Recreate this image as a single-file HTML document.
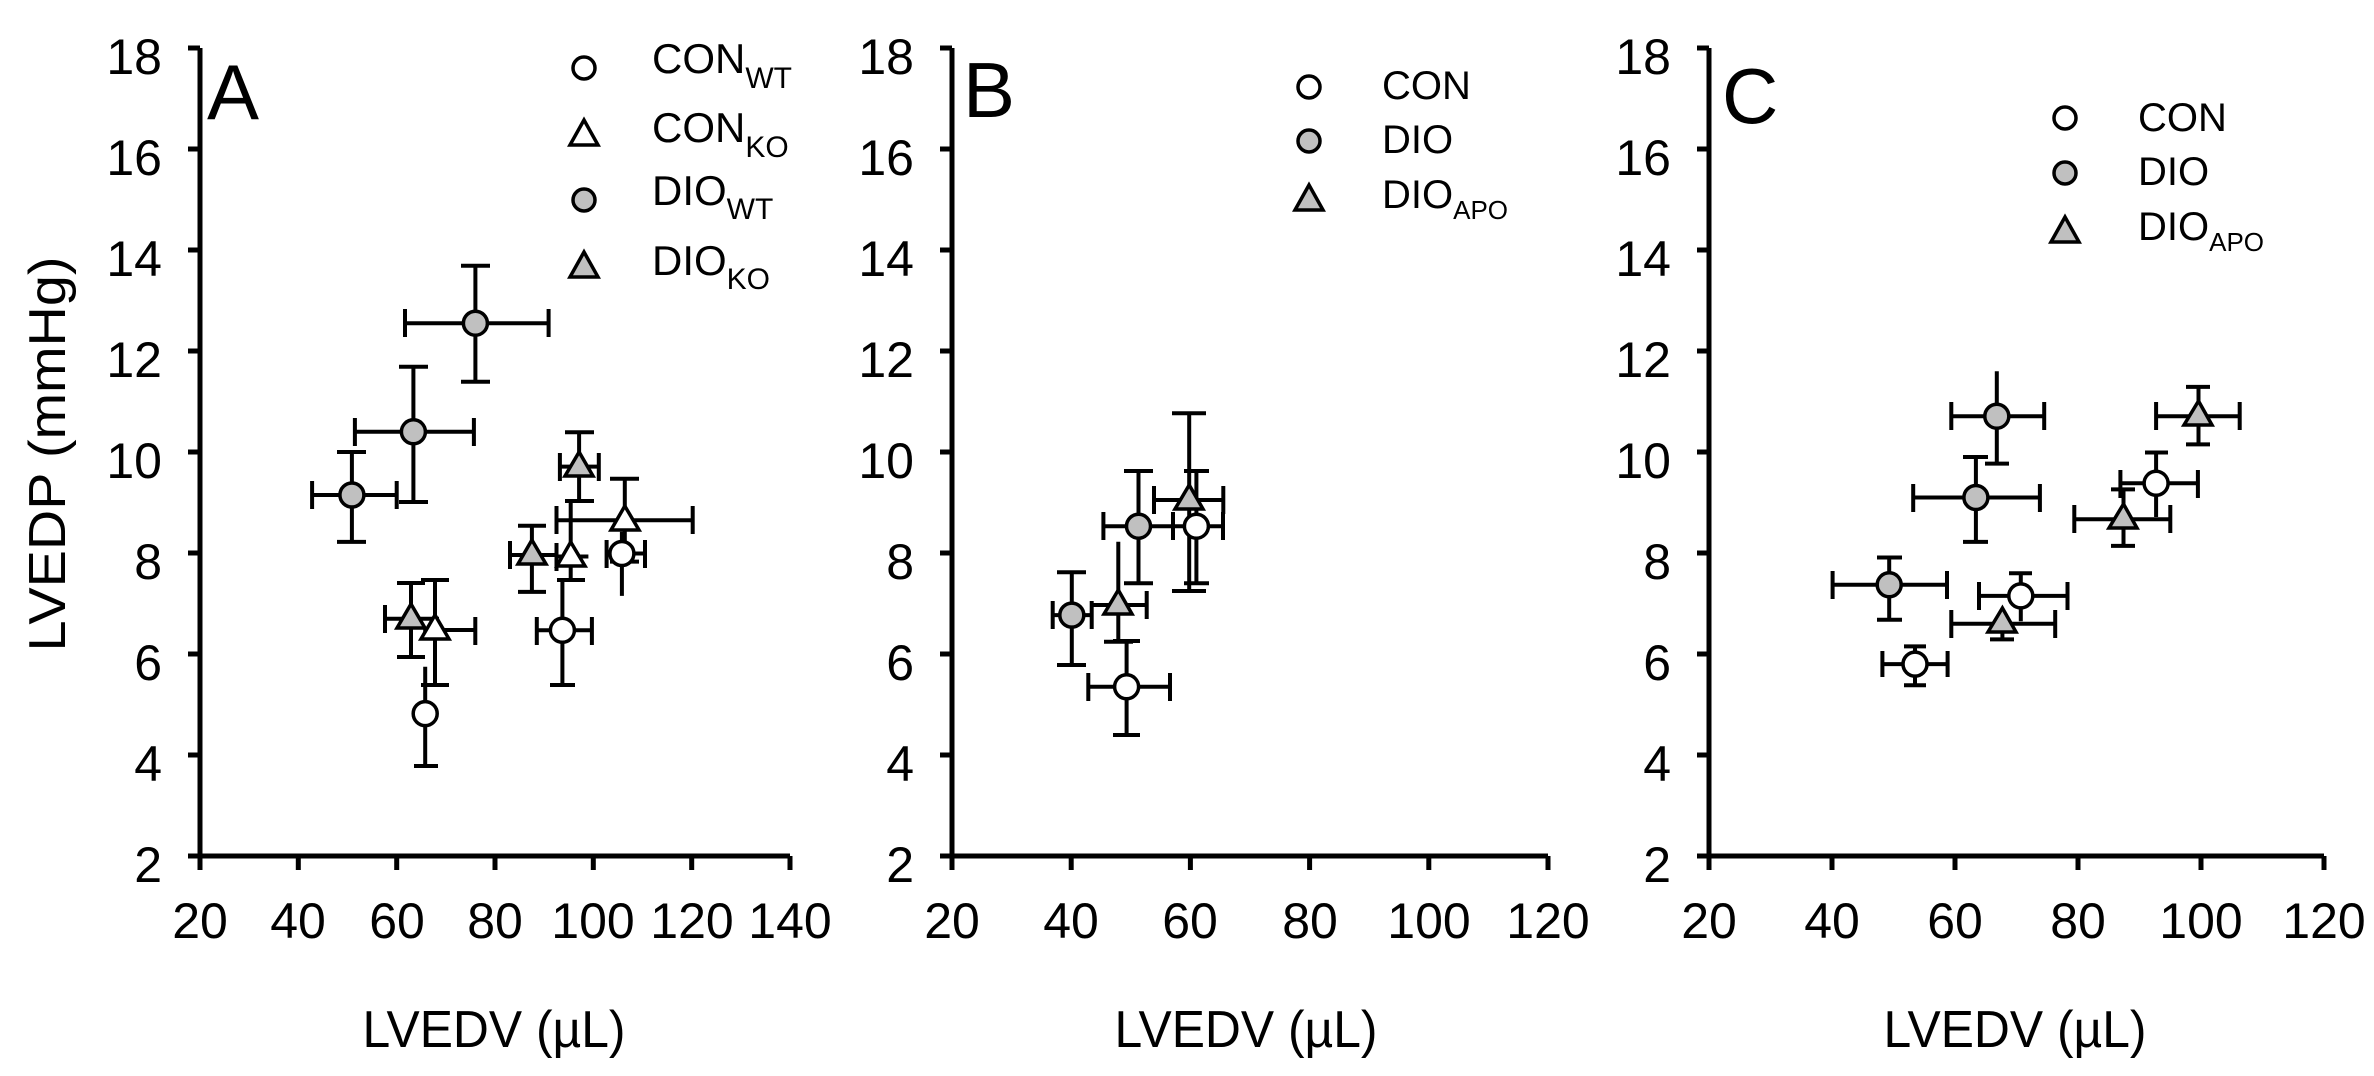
<!DOCTYPE html>
<html><head><meta charset="utf-8"><style>html,body{margin:0;padding:0;background:#fff}svg{display:block}</style></head><body>
<svg width="2374" height="1076" viewBox="0 0 2374 1076" xmlns="http://www.w3.org/2000/svg" font-family="Liberation Sans, Arial, sans-serif">
<rect width="2374" height="1076" fill="#fff"/>
<g stroke="#000" stroke-width="5" fill="none">
<!-- axes -->
<path d="M200 48V856M188 856H790"/>
<path d="M188 48h12M188 149h12M188 250h12M188 351h12M188 452h12M188 553h12M188 654h12M188 755h12"/>
<path d="M200 856v14M298.3 856v14M396.7 856v14M495 856v14M593.3 856v14M691.7 856v14M790 856v14"/>
<path d="M952 48V856M940 856H1548"/>
<path d="M940 48h12M940 149h12M940 250h12M940 351h12M940 452h12M940 553h12M940 654h12M940 755h12"/>
<path d="M952 856v14M1071.2 856v14M1190.4 856v14M1309.6 856v14M1428.8 856v14M1548 856v14"/>
<path d="M1709 48V856M1697 856H2324"/>
<path d="M1697 48h12M1697 149h12M1697 250h12M1697 351h12M1697 452h12M1697 553h12M1697 654h12M1697 755h12"/>
<path d="M1709 856v14M1832 856v14M1955 856v14M2078 856v14M2201 856v14M2324 856v14"/>
</g>
<g font-size="50" text-anchor="end" fill="#000">
<text x="162" y="74">18</text><text x="162" y="175">16</text><text x="162" y="276">14</text><text x="162" y="377">12</text><text x="162" y="478">10</text><text x="162" y="579">8</text><text x="162" y="680">6</text><text x="162" y="781">4</text><text x="162" y="882">2</text>
<text x="914" y="74">18</text><text x="914" y="175">16</text><text x="914" y="276">14</text><text x="914" y="377">12</text><text x="914" y="478">10</text><text x="914" y="579">8</text><text x="914" y="680">6</text><text x="914" y="781">4</text><text x="914" y="882">2</text>
<text x="1671" y="74">18</text><text x="1671" y="175">16</text><text x="1671" y="276">14</text><text x="1671" y="377">12</text><text x="1671" y="478">10</text><text x="1671" y="579">8</text><text x="1671" y="680">6</text><text x="1671" y="781">4</text><text x="1671" y="882">2</text>
</g>
<g font-size="50" text-anchor="middle" fill="#000">
<text x="200" y="938">20</text><text x="298" y="938">40</text><text x="397" y="938">60</text><text x="495" y="938">80</text><text x="593" y="938">100</text><text x="692" y="938">120</text><text x="790" y="938">140</text>
<text x="952" y="938">20</text><text x="1071" y="938">40</text><text x="1190" y="938">60</text><text x="1310" y="938">80</text><text x="1429" y="938">100</text><text x="1548" y="938">120</text>
<text x="1709" y="938">20</text><text x="1832" y="938">40</text><text x="1955" y="938">60</text><text x="2078" y="938">80</text><text x="2201" y="938">100</text><text x="2324" y="938">120</text>
</g>
<g font-size="52" text-anchor="middle" fill="#000">
<text x="494" y="1047" textLength="263" lengthAdjust="spacingAndGlyphs">LVEDV (µL)</text>
<text x="1246" y="1047" textLength="263" lengthAdjust="spacingAndGlyphs">LVEDV (µL)</text>
<text x="2015" y="1047" textLength="263" lengthAdjust="spacingAndGlyphs">LVEDV (µL)</text>
<text transform="translate(65,454) rotate(-90)" textLength="395" lengthAdjust="spacingAndGlyphs">LVEDP (mmHg)</text>
</g>
<g font-size="78" fill="#000">
<text x="207" y="119">A</text><text x="963" y="117">B</text><text x="1722" y="123">C</text>
</g>
<!-- legends -->
<g stroke="#000" stroke-width="3.5">
<circle cx="584" cy="68" r="11" fill="#fff"/>
<polygon points="584,120 570,145 598,145" fill="#fff"/>
<circle cx="584" cy="200" r="11" fill="#c0c0c0"/>
<polygon points="584,252 570,277 598,277" fill="#c0c0c0"/>
<circle cx="1309" cy="87" r="11" fill="#fff"/>
<circle cx="1309" cy="141" r="11" fill="#c0c0c0"/>
<polygon points="1309,185 1295,210 1323,210" fill="#c0c0c0"/>
<circle cx="2065" cy="118" r="11" fill="#fff"/>
<circle cx="2065" cy="173" r="11" fill="#c0c0c0"/>
<polygon points="2065,217 2051,242 2079,242" fill="#c0c0c0"/>
</g>
<g font-size="42" fill="#000">
<text x="652" y="73">CON<tspan font-size="30" dy="15">WT</tspan></text>
<text x="652" y="142">CON<tspan font-size="30" dy="15">KO</tspan></text>
<text x="652" y="205">DIO<tspan font-size="30" dy="14">WT</tspan></text>
<text x="652" y="275">DIO<tspan font-size="30" dy="14">KO</tspan></text>
</g>
<g font-size="40" fill="#000">
<text x="1382" y="99">CON</text><text x="1382" y="153">DIO</text><text x="1382" y="208">DIO<tspan font-size="26" dy="11">APO</tspan></text>
<text x="2138" y="131">CON</text><text x="2138" y="185">DIO</text><text x="2138" y="240">DIO<tspan font-size="26" dy="11">APO</tspan></text>
</g>
<!-- error bars -->
<g stroke="#000" stroke-width="4" fill="none">
<!-- A -->
<path d="M405 323.2H548.6M405 309v28M548.6 309v28M475.4 265.7V381.8M461 265.7h29M461 381.8h29"/>
<path d="M354.9 431.8H473.9M354.9 418v28M473.9 418v28M413.4 366.7V502M399 366.7h29M399 502h29"/>
<path d="M312.1 495H396.7M312.1 481v28M396.7 481v28M351.9 452V541.9M337 452h29M337 541.9h29"/>
<path d="M559.9 466.6H598.8M559.9 453v28M598.8 453v28M579.1 432.3V501M565 432.3h29M565 501h29"/>
<path d="M556.5 520.2H692.7M556.5 506v28M692.7 506v28M624.8 478.8V561.6M610 478.8h29M610 561.6h29"/>
<path d="M510 555H556.7M510 541v28M531.9 525.7V591.9M518 525.7h28M518 591.9h28"/>
<path d="M556.5 556.5H588.4M556.5 543v28M570.7 501V580M557 580h28"/>
<path d="M606.6 553.5H645M606.6 540v28M645 540v28M621.9 531.8V595.9"/>
<path d="M536.8 630.3H591.9M536.8 617v28M591.9 617v28M562.4 580V685M550 685h25"/>
<path d="M385 618.7H439M385 605v28M411 583V657M397 583h28M397 657h28"/>
<path d="M423.2 630H475.3M475.3 617v28M435 580V685M421 580h28M421 685h28"/>
<path d="M413 713.6H436.7M425.2 666.7V766M414 766h24"/>
<!-- B -->
<path d="M1103.4 526.2H1173.7M1103.4 512v28M1138.5 471V583.3M1124 471h29M1124 583.3h29"/>
<path d="M1154 500H1223.3M1154 486v28M1223.3 486v28M1189.2 413.3V591M1172 413.3h34M1172 591h34"/>
<path d="M1173 526.2H1223M1173 512v28M1223 512v28M1196.4 471V583.3M1184 471h25M1184 583.3h25"/>
<path d="M1052.7 615.1H1091.7M1052.7 601v28M1091.7 601v28M1071.8 572.3V665M1057 572.3h29M1057 665h29"/>
<path d="M1091.7 605H1146.7M1146.7 591v28M1118.3 541.7V641.7M1104 641.7h29"/>
<path d="M1088.3 686.8H1170M1088.3 673v28M1170 673v28M1126.6 641V735M1113 641h27M1113 735h27"/>
<!-- C -->
<path d="M1951.3 416.2H2044.2M1951.3 402v28M2044.2 402v28M1996.8 371.2V463.6M1985 463.6h24"/>
<path d="M1913.2 497.5H2039.9M1913.2 484v28M2039.9 484v28M1975.9 457V541.9M1963 457h25M1963 541.9h25"/>
<path d="M1832.6 584.8H1947M1832.6 571v28M1947 571v28M1889.2 557.5V619.7M1877 557.5h25M1877 619.7h25"/>
<path d="M2120.4 483.3H2197.9M2120.4 470v28M2197.9 470v28M2156.1 452.5V517M2145 452.5h23"/>
<path d="M1979 595.9H2067.5M1979 582v28M2067.5 582v28M2020.8 573.2V621.2M2009 573.2h23"/>
<path d="M1882.4 664.1H1947.6M1882.4 651v26M1947.6 651v26M1915 646.4V685.3M1904 646.4h22M1904 685.3h22"/>
<path d="M2156.1 416.2H2239.7M2156.1 402v28M2239.7 402v28M2198.5 386.9V444.4M2186 386.9h24M2186 444.4h24"/>
<path d="M2074.3 519.2H2170.3M2074.3 505v28M2170.3 505v28M2123.5 489.4V545.9M2111 489.4h24M2111 545.9h24"/>
<path d="M1951.3 623.7H2055.2M1951.3 610v28M2055.2 610v28M2002.4 608.5V639.4M1990 639.4h24"/>
</g>
<!-- markers -->
<g stroke="#000" stroke-width="3.5">
<circle cx="475.4" cy="323.2" r="12" fill="#c0c0c0"/>
<circle cx="413.4" cy="431.8" r="12" fill="#c0c0c0"/>
<circle cx="351.9" cy="495" r="12" fill="#c0c0c0"/>
<polygon points="579.1,452 565,476 593,476" fill="#c0c0c0"/>
<polygon points="624.8,506 611,530 639,530" fill="#fff"/>
<polygon points="531.9,540 518,564 546,564" fill="#c0c0c0"/>
<polygon points="570.7,542 557,566 585,566" fill="#fff"/>
<circle cx="621.9" cy="553.5" r="12" fill="#fff"/>
<circle cx="562.4" cy="630.3" r="12" fill="#fff"/>
<polygon points="411,604 397,628 425,628" fill="#c0c0c0"/>
<polygon points="435,615 421,639 449,639" fill="#fff"/>
<circle cx="425.2" cy="713.6" r="12" fill="#fff"/>
<circle cx="1138.5" cy="526.2" r="12" fill="#c0c0c0"/>
<polygon points="1189.2,485 1175,509 1203,509" fill="#c0c0c0"/>
<circle cx="1196.4" cy="526.2" r="12" fill="#fff"/>
<circle cx="1071.8" cy="615.1" r="12" fill="#c0c0c0"/>
<polygon points="1118.3,590 1104,614 1132,614" fill="#c0c0c0"/>
<circle cx="1126.6" cy="686.8" r="12" fill="#fff"/>
<circle cx="1996.8" cy="416.2" r="12" fill="#c0c0c0"/>
<circle cx="1975.9" cy="497.5" r="12" fill="#c0c0c0"/>
<circle cx="1889.2" cy="584.8" r="12" fill="#c0c0c0"/>
<circle cx="2156.1" cy="483.3" r="12" fill="#fff"/>
<circle cx="2020.8" cy="595.9" r="12" fill="#fff"/>
<circle cx="1915" cy="664.1" r="12" fill="#fff"/>
<polygon points="2198.5,401 2184,425 2212,425" fill="#c0c0c0"/>
<polygon points="2123.5,504 2109,528 2137,528" fill="#c0c0c0"/>
<polygon points="2002.4,608 1988,632 2016,632" fill="#c0c0c0"/>
</g>
</svg>
</body></html>
